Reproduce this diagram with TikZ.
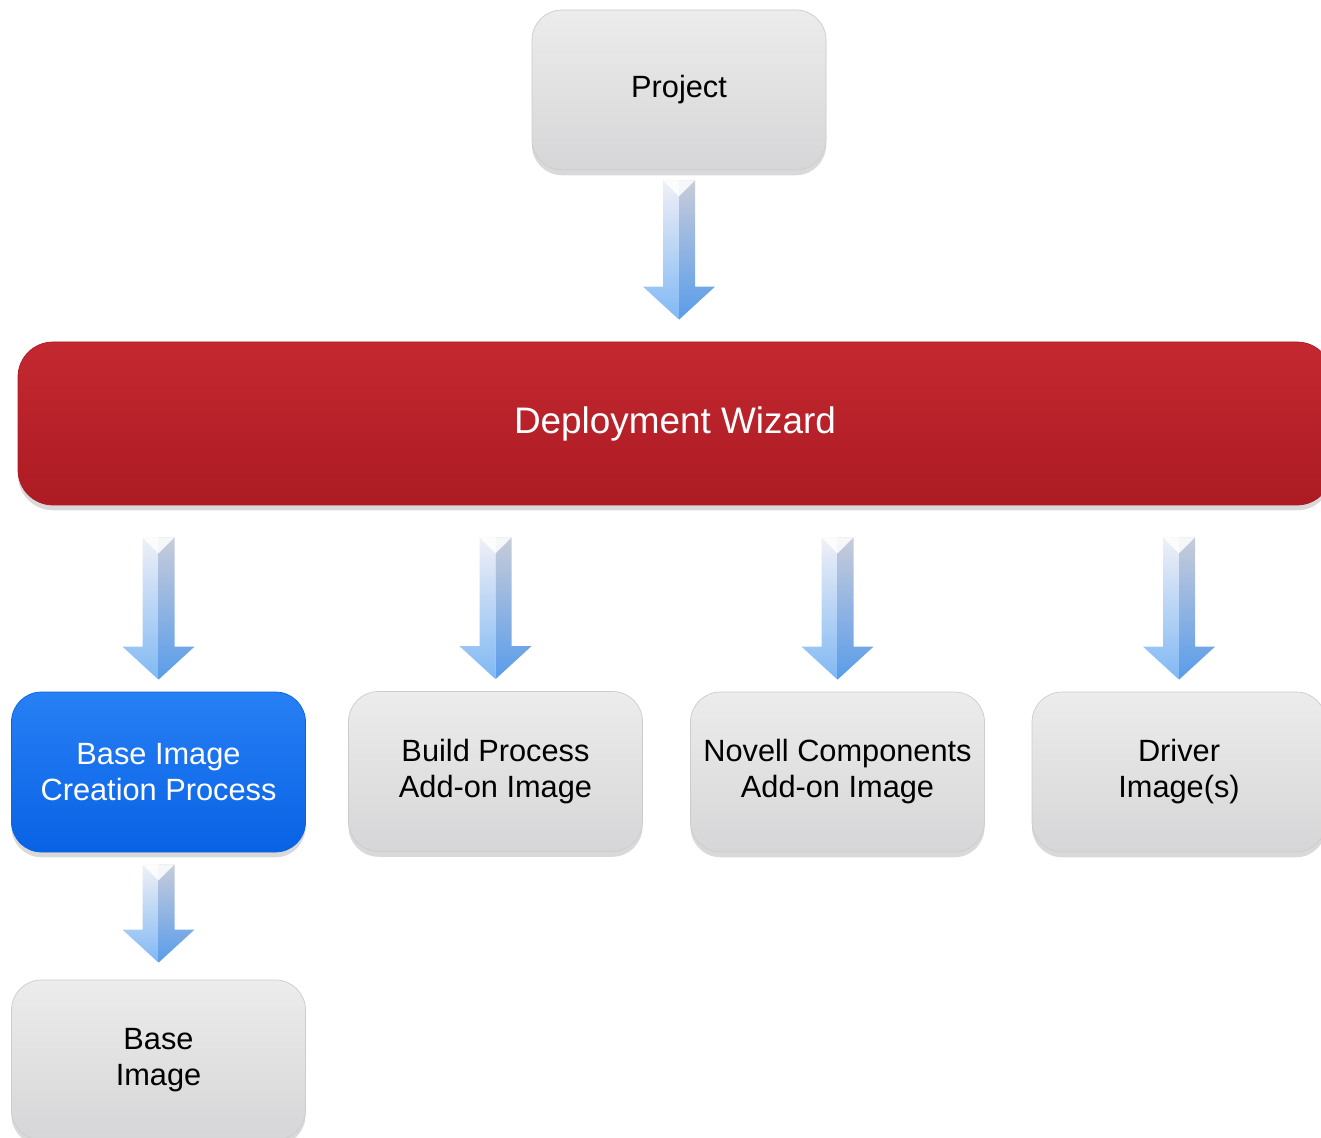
\documentclass[tikz,border=0pt]{standalone}
\usepackage{fontspec}
\setmainfont{Liberation Sans}
\usetikzlibrary{calc,shadows}

\definecolor{graytop}{RGB}{236,236,236}
\definecolor{graymid}{RGB}{220,220,222}
\definecolor{graybot}{RGB}{214,214,216}
\definecolor{redtop}{RGB}{196,40,48}
\definecolor{redmid}{RGB}{178,31,39}
\definecolor{redbot}{RGB}{172,27,35}
\definecolor{bluetop}{RGB}{40,128,245}
\definecolor{bluemid}{RGB}{12,108,240}
\definecolor{bluebot}{RGB}{8,98,228}
\definecolor{arrowlt}{RGB}{240,240,246}
\definecolor{arrowlb}{RGB}{128,184,244}
\definecolor{arrowrt}{RGB}{200,204,218}
\definecolor{arrowrb}{RGB}{88,156,234}

\tikzset{
  box/.style={rounded corners=0.6cm, minimum width=5.88cm, minimum height=3.2cm,
    align=center, font=\fontsize{17.5}{20.5}\selectfont, line width=0.4pt,
    drop shadow={shadow xshift=0pt, shadow yshift=-3pt, opacity=0.15, fill=black}},
  graybox/.style={box, draw=gray!40, top color=graytop, middle color=graymid,
    bottom color=graybot, text=black},
  bluebox/.style={box, draw=bluebot, top color=bluetop, middle color=bluemid,
    bottom color=bluebot, text=white},
  redbar/.style={box, rounded corners=0.7cm, minimum width=26.28cm, minimum height=3.26cm,
    draw=redbot, top color=redtop, middle color=redmid, bottom color=redbot,
    text=white, font=\fontsize{21}{25}\selectfont}
}

% block arrow from top point #1 down to tip #2
\newcommand{\flowarrow}[2]{%
  \shade[top color=arrowlt, bottom color=arrowlb]
    ($(#1)+(-0.32,0)$) -- (#1) -- (#2) -- ($(#2)+(-0.72,0.66)$) -- ($(#2)+(-0.32,0.66)$) -- cycle;
  \shade[top color=arrowrt, bottom color=arrowrb]
    ($(#1)+(0.32,0)$) -- (#1) -- (#2) -- ($(#2)+(0.72,0.66)$) -- ($(#2)+(0.32,0.66)$) -- cycle;
  \fill[white, opacity=0.85] ($(#1)+(-0.32,0)$) -- ($(#1)+(0.32,0)$) -- ($(#1)+(0,-0.32)$) -- cycle;
}

\begin{document}
\begin{tikzpicture}
    \path[use as bounding box, clip] (0,0) rectangle (26.42,-22.76);

    \node[graybox] (proj) at (13.58, -1.8) {Project};
    \node[redbar] (wiz) at (13.5, -8.47) {Deployment Wizard};
    \node[bluebox] (bic) at (3.17, -15.44) {Base Image\\Creation Process};
    \node[graybox] (build) at (9.91, -15.43) {Build Process\\Add-on Image};
    \node[graybox] (novell) at (16.75, -15.44) {Novell Components\\Add-on Image};
    \node[graybox] (driver) at (23.58, -15.44) {Driver\\Image(s)};
    \node[graybox] (base) at (3.17, -21.2) {Base\\Image};

    % arrows
    \coordinate (p1) at ($(proj.south)+(0,-0.2)$);
    \coordinate (p2) at ($(p1 |- wiz.north)+(0,0.44)$);
    \flowarrow{p1}{p2}
    \foreach \n in {bic, build, novell, driver} {
        \coordinate (s-\n) at ($(\n.north |- wiz.south)+(0,-0.64)$);
        \coordinate (t-\n) at ($(\n.north)+(0,0.24)$);
        \flowarrow{s-\n}{t-\n}
    }
    \coordinate (b1) at ($(bic.south)+(0,-0.24)$);
    \coordinate (b2) at ($(base.north)+(0,0.34)$);
    \flowarrow{b1}{b2}
\end{tikzpicture}
\end{document}
